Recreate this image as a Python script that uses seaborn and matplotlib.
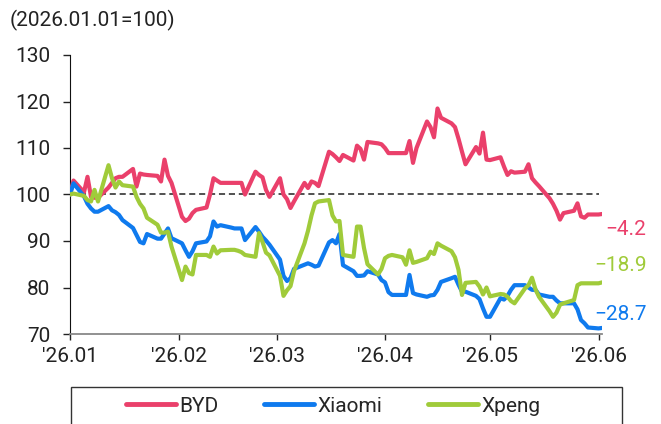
import numpy as np
import pandas as pd
import matplotlib
matplotlib.use("Agg")
import matplotlib.pyplot as plt
import matplotlib.dates as mdates
from matplotlib.patches import Rectangle
from matplotlib.lines import Line2D
import seaborn as sns

# trading days 2026.01.01 - 2026.06.02, index 2026.01.01 = 100
dates = pd.bdate_range("2026-01-01", "2026-06-02")

byd = [
    100, 103, 100.5, 103.8, 99.5, 99.3, 99.3, 101.5, 102.5, 103.5, 103.8, 103.8, 105.5, 101.7, 104.5, 104.3, 104.2, 104, 102.8, 107.5, 104, 102.5,
    95.2, 94.3, 94.8, 96, 96.7, 97.2, 100, 103.5, 103, 102.5, 102.5, 102.5, 102.5, 102.5, 100, 104.9, 104.2, 103.7, 101, 99.5,
    103.5, 100, 99, 97.1, 98.5, 102.5, 101.4, 102.8, 102.5, 101.8, 109.2, 108.7, 108, 107.2, 108.5, 107.3, 110.5, 109.8, 107.5, 111.3, 111, 110.8,
    110, 108.9, 108.9, 108.9, 108.9, 111.5, 106.8, 110, 115.7, 114.5, 112.3, 118.5, 116.5, 115.3, 114.5, 112, 109.2, 106.5, 110.2, 108.8, 113.3, 107.5,
    107.4, 108, 106, 104.2, 105, 104.7, 104.9, 106.5, 103.5, 102.6, 101.8, 99.2, 98, 96.5, 94.6, 96, 96.5, 98.1, 95.3, 95, 95.7,
    95.7, 95.8,
]
xiaomi = [
    100, 102.4, 99.6, 98, 97, 96.3, 96.3, 97.5, 96.6, 96.2, 95.6, 94.5, 92.8, 91.3, 89.8, 89.5, 91.5, 90.5, 90.5, 91.6, 92.7, 90.6,
    89.5, 88, 86.6, 87.8, 89.5, 89.9, 91, 94.2, 93.1, 93.4, 92.9, 92.7, 92.7, 92.7, 90.2, 93, 92, 90.9, 90.1, 89.2,
    86, 82.5, 81.4, 82, 84, 84.9, 85.2, 84.9, 84.5, 84.7, 89.7, 90.2, 89.5, 91.5, 84.8, 83.5, 82.5, 82.5, 82.6, 83.5, 82.8, 81.6,
    81.1, 79, 78.4, 78.4, 78.4, 82.7, 78.8, 78.5, 78, 78.3, 78.4, 79.5, 81.2, 82, 82.3, 80.6, 79.1, 79.1, 78.2, 77.5, 75.5, 73.7,
    73.7, 77.7, 77.4, 78.2, 79.5, 80.5, 80.5, 80, 79.5, 79.5, 78.5, 78, 78, 77.2, 76.6, 76.6, 76.6, 75.3, 73, 72.3, 71.4,
    71.2, 71.3,
]
xpeng = [
    100, 100.2, 99.7, 98.8, 98.5, 101, 98.5, 106.3, 103.5, 101.5, 102.8, 102, 101.7, 99.5, 98, 97, 95, 93.5, 91.8, 91.8, 92, 88.8,
    81.6, 84.5, 83.1, 82.8, 87, 87, 86.6, 88.8, 87.3, 88, 88.1, 88.1, 87.9, 87.6, 87, 86.6, 91.7, 89.8, 87.5, 86.9,
    82.5, 78.2, 79.4, 80.3, 83.5, 89.5, 92.2, 95.5, 98.1, 98.5, 98.8, 95.5, 94.2, 94.3, 87, 86.6, 93.1, 93.1, 88.5, 85, 82.8, 84,
    86.3, 86.8, 87, 86.5, 84.9, 88, 85.3, 85.5, 86.3, 87.7, 87.2, 89.5, 89, 87.8, 86.5, 83.8, 78.4, 81, 81.2, 80.2, 78.5, 80,
    78.1, 78.6, 78.5, 78, 77.1, 76.6, 79.8, 80.5, 82.1, 79.6, 78, 74.9, 73.7, 74.6, 76.3, 76.6, 77.3, 80.5, 80.9, 80.9, 80.9,
    80.9, 81.1,
]

names = ["BYD", "Xiaomi", "Xpeng"]
colors = ["#EA406B", "#0F7AEE", "#A0CB3A"]
yticks = [70, 80, 90, 100, 110, 120, 130]

df = pd.DataFrame({"date": dates, "BYD": byd, "Xiaomi": xiaomi, "Xpeng": xpeng})
long = df.melt(id_vars="date", var_name="company", value_name="value")

sns.set_style("ticks")
plt.rcParams["font.family"] = ["Roboto", "DejaVu Sans"]
FS = 15

fig = plt.figure(figsize=(6.61, 4.24), dpi=100)
ax = fig.add_axes([70 / 661, 90 / 424, 532 / 661, 279 / 424])

# base line at 100
ax.hlines(100, dates[0], pd.Timestamp("2026-06-01"), colors="#222222",
          linestyles=(0, (4, 2.5)), linewidth=1.1, zorder=1)

sns.lineplot(data=long, x="date", y="value", hue="company", hue_order=names,
             palette=colors, linewidth=3, legend=False, ax=ax, zorder=3)

# change labels at line ends
offsets = {"BYD": -11, "Xiaomi": 10, "Xpeng": 12.5}
for name, col in zip(names, colors):
    last = df[name].iloc[-1]
    txt = f"{last - 100:.1f}".replace("-", "\u2212")
    ax.annotate(txt, xy=(df["date"].iloc[-1], last), xytext=(32, offsets[name]),
                textcoords="offset points", ha="right", va="center",
                color=col, fontsize=FS, annotation_clip=False)

ax.set_xlim(dates[0], dates[-1])
ax.set_ylim(70, 130)
ax.set_yticks(yticks)
ax.xaxis.set_major_locator(mdates.MonthLocator())
ax.xaxis.set_major_formatter(mdates.DateFormatter("'%y.%m"))
ax.set_xlabel("")
ax.set_ylabel("")
ax.tick_params(axis="y", length=5, width=1, pad=9, labelsize=FS, colors="#222222")
ax.tick_params(axis="x", length=4, width=1, pad=5, labelsize=FS, colors="#222222")
for s in ["top", "right"]:
    ax.spines[s].set_visible(False)
ax.spines["left"].set_color("#111111")
ax.spines["bottom"].set_color("#888888")
ax.spines["bottom"].set_linewidth(1.3)

fig.text(10 / 661, 1 - 20 / 424, "(2026.01.01=100)", fontsize=FS,
         va="center", ha="left", color="#222222")

# legend with a box cut by the bottom edge
fig.add_artist(Rectangle((71 / 661, -0.1), 551 / 661, 0.1 + (424 - 387) / 424,
                         transform=fig.transFigure, fill=False,
                         edgecolor="#333333", linewidth=1))
handles = [Line2D([], [], color=c, linewidth=3.5) for c in colors]
fig.legend(handles, names, loc="center",
           bbox_to_anchor=(333 / 661, 1 - 406 / 424), ncol=3, frameon=False,
           fontsize=FS, handlelength=2.4, handletextpad=0.15,
           columnspacing=2.2, borderpad=0)

fig.savefig("out.png", dpi=100)
